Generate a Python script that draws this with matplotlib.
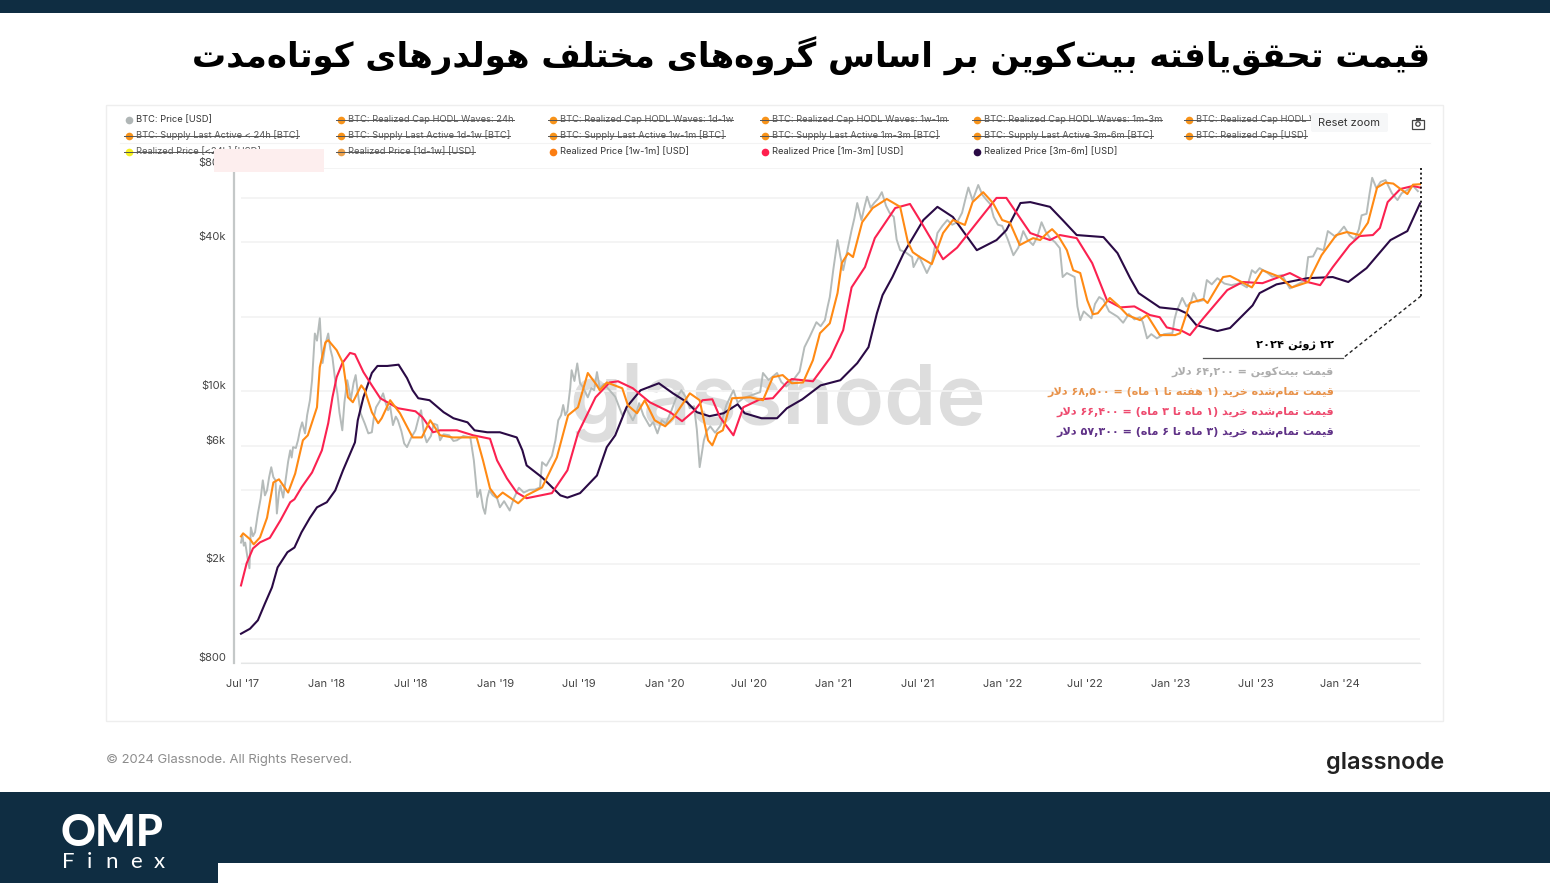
import numpy as np
import matplotlib
matplotlib.use('Agg')
import matplotlib.pyplot as plt
from matplotlib.patches import Rectangle, FancyBboxPatch, Circle

W, H = 1550, 883
NAVY = '#0f2d42'

# (months since Jul 2017, USD)
price_pts = [(0,2450),(.1,2620),(.2,2380),(.3,2450),(.45,2150),(.6,1930),(.7,2820),(.85,2600),(1,2700),(1.1,2950),(1.2,3210),(1.4,3700),(1.55,4370),
(1.7,3800),(1.85,3980),(2,4500),(2.15,4935),(2.3,4500),(2.45,4370),(2.55,3210),(2.7,3900),(2.8,4165),(3,3720),(3.2,4500),(3.35,5200),(3.5,5775),
(3.6,5400),(3.7,5950),(3.9,5900),(4.05,6340),(4.2,7000),(4.35,7490),(4.55,6760),(4.7,8000),(4.9,9200),(5.05,11080),(5.25,17100),(5.4,16000),(5.6,19700),
(5.7,15500),(5.8,13000),(6,15500),(6.2,17100),(6.35,14800),(6.5,13700),(6.7,11000),(6.85,9810),(7,8200),(7.2,6955),(7.35,9000),(7.55,11080),(7.7,10000),
(7.8,9200),(8,10800),(8.15,11620),(8.3,9900),(8.5,8150),(8.8,7400),(9.05,6760),(9.3,6830),(9.45,7900),(9.6,8615),(9.85,9100),(10.1,9810),(10.3,8900),
(10.45,8380),(10.6,8700),(10.8,7300),(11,7900),(11.15,7635),(11.4,6900),(11.6,6150),(11.8,5950),(12.1,6500),(12.4,6955),(12.6,7700),(12.8,8380),(13,6760),
(13.2,6220),(13.5,6600),(13.7,7400),(13.95,7300),(14.15,6340),(14.4,6700),(14.8,6640),(15.1,6300),(15.35,6340),(15.8,6600),(16.3,6510),(16.55,5260),
(16.7,4300),(16.8,3740),(17,4000),(17.2,3400),(17.35,3200),(17.5,3700),(17.65,3980),(17.9,3800),(18.2,3700),(18.4,3400),(18.7,3600),(19.1,3300),(19.4,3700),
(19.75,4080),(20.1,3900),(20.5,4000),(20.9,4010),(21.25,4090),(21.4,5170),(21.7,5000),(22.1,5490),(22.35,6340),(22.55,7635),(22.75,8000),(22.9,8800),(23.05,8000),
(23.2,8300),(23.4,10300),(23.5,12160),(23.7,11000),(23.9,12950),(24.1,10770),(24.3,10400),(24.65,9450),(24.9,10300),(25.1,10100),(25.3,11950),(25.5,10300),(25.8,10700),
(26.2,10090),(26.6,9500),(27.1,8000),(27.4,8500),(27.85,7635),(28.1,8200),(28.3,8950),(28.6,8000),(29.05,7220),(29.3,7500),(29.6,6760),(29.9,7635),(30.2,7400),
(30.6,8380),(30.9,9300),(31.3,10090),(31.6,9500),(31.9,8540),(32.2,8700),(32.4,7000),(32.6,4940),(32.75,5600),(32.9,6340),(33.1,6900),(33.35,7220),(33.7,6800),(34.1,7300),
(34.5,8800),(35,10090),(35.3,9000),(35.7,9370),(36.2,9600),(36.9,9920),(37.1,11850),(37.5,11100),(38.1,11850),(38.4,10900),(38.75,10450),(39.2,11000),(39.7,12000),
(40.05,15060),(40.4,16500),(40.9,19000),(41.2,18300),(41.5,19360),(41.7,22000),(41.85,24000),(42.1,31000),(42.4,40750),(42.6,35000),(42.8,30800),(43.1,37000),(43.4,44700),
(43.6,50000),(43.8,57500),(44.1,49100),(44.3,55000),(44.5,61000),(44.75,55000),(45,57500),(45.3,60000),(45.55,63600),(45.85,56000),(46.1,52500),(46.4,50500),(46.6,41000),(46.85,37100),
(47.2,36500),(47.7,34800),(47.8,31700),(48.2,35000),(48.75,30000),(49.1,33000),(49.5,43500),(49.85,46500),(50.2,49100),(50.55,47000),(50.9,48100),(51.25,52500),(51.5,60000),
(51.7,66400),(52,59000),(52.4,68000),(52.7,62000),(53,59100),(53.25,57000),(53.5,50500),(53.8,47000),(54.1,46500),(54.5,41000),(54.9,35400),(55.25,38000),(55.6,44300),(55.9,41000),(56.3,38900),
(56.6,42000),(56.9,48100),(57.2,44000),(57.5,41500),(57.85,40000),(58.2,37800),(58.4,28900),(58.7,30000),(59.25,28900),(59.45,22000),(59.65,19360),(59.9,21000),(60.45,19700),(60.7,22500),(61,24000),
(61.3,23400),(61.7,21000),(62.3,20000),(62.7,18900),(63.1,20500),(63.5,19500),(63.9,19900),(64.1,19000),(64.4,16350),(64.7,17000),(65.1,16350),(65.6,17000),(66.2,17150),(66.35,19500),(66.5,21000),(66.9,23800),
(67.2,22000),(67.5,22700),(67.7,24900),(68,23000),(68.4,23300),(68.65,28100),(69,27000),(69.4,28600),(69.9,27200),(70.4,26800),(71,27300),(71.5,26250),(71.85,30800),(72.1,30000),(72.4,31400),
(72.9,30200),(73.3,29000),(74,29400),(74.55,26000),(75.1,27000),(75.65,28100),(75.85,34800),(76.2,35000),(76.5,37800),(76.95,37100),(77.25,44300),(77.8,42000),(78.4,46200),(78.8,42500),(79.15,41000),
(79.45,45000),(79.65,51300),(80,52000),(80.2,62000),(80.4,72700),(80.7,66000),(81,70000),(81.35,71200),(81.8,63000),(82.2,59100),(82.5,63000),(82.9,64900),(83.3,67500),(83.65,64200)]

orange_pts = [(0,2595),(.15,2670),(.65,2525),(.9,2410),(1.35,2570),(1.85,3085),(2.3,4285),(2.7,4410),(3.35,3900),(3.85,4650),(4.4,6340),(4.75,6640),(5.4,8615),(5.6,12500),
(6,15750),(6.2,16070),(6.8,14640),(7.25,12980),(7.6,9450),(7.95,9030),(8.3,9900),(8.55,10560),(8.8,10090),(9.3,8230),(9.75,7430),(10,7780),(10.6,9200),(11.3,8150),
(12.2,6510),(12.85,6510),(13.45,7635),(14.15,6640),(15.05,6510),(16.75,6510),(17.2,5260),(17.7,4050),(18.2,3720),(18.6,3900),(19.7,3530),(20.3,3800),(21.4,4090),
(22.45,5410),(23.25,8000),(23.95,8615),(24.65,11850),(25.3,10560),(25.5,10090),(26,10850),(27.1,10280),(27.5,8770),(28.15,8150),(28.7,9200),(29.4,7635),(30.15,7220),
(30.7,7780),(31.9,9810),(32.6,9200),(33.2,6340),(33.5,6050),(33.85,6760),(34.25,6955),(34.9,9370),(36.2,9450),(37.1,9200),(37.8,11400),(38.5,11620),(39.15,10770),
(39.95,10850),(40.65,13340),(41.15,17150),(41.85,18800),(42.4,24900),(42.7,32900),(43.15,36100),(43.5,34800),(44.15,48100),(44.9,54900),(45.9,59700),(46.85,55500),
(47.4,40000),(47.75,36400),(48.25,34800),(49.1,32600),(49.9,43500),(50.6,49100),(51.45,46900),(52,58000),(52.75,63600),(53.45,57500),(54.1,49100),(54.65,47900),
(55.35,38900),(56.3,41500),(56.8,40750),(57.3,43500),(57.65,45100),(58.05,42700),(58.7,37100),(59.15,30800),(59.65,30000),(60.15,23300),(60.55,20450),(60.9,20650),
(61.75,23800),(62.35,22200),(63,20300),(63.9,19360),(64.4,20300),(65.3,16850),(66.4,16850),(66.75,17150),(67.45,22700),(68.4,23550),(68.7,22700),(69.8,28900),(70.3,29200),
(71.85,26250),(72.6,30800),(73.85,28900),(74.7,26250),(75.85,27600),(76.8,35400),(77.85,42700),(78.6,43900),(79.5,42700),(80.1,47900),(80.75,66400),(81.35,69500),
(81.9,68900),(82.9,62500),(83.3,68200),(83.8,68500)]

red_pts = [(0,1645),(.4,2020),(.85,2320),(1.35,2455),(2.05,2560),(2.8,3010),(3.5,3565),(3.8,3665),(4.3,4090),(5.05,4700),(5.75,5775),(6.2,7430),(6.5,9450),(6.8,11400),(7.2,12980),
(7.75,14280),(8.1,14100),(8.7,11950),(9.3,10560),(9.9,9370),(10.4,9030),(11.15,8540),(12.4,8300),(12.9,7850),(13.65,6830),(14.15,6955),(15.35,6955),(16.5,6640),(17.7,6430),
(18.2,5260),(18.9,4450),(19.6,3900),(20.3,3700),(22.1,3880),(23.2,4795),(23.95,6760),(25.2,9450),(26.2,10850),(26.8,10970),(27.85,10280),(29.05,9030),(30.5,8230),(31.35,7570),
(32.25,8380),(32.8,9200),(33.5,9280),(34.05,7850),(35,6640),(35.7,8615),(36.9,9280),(37.8,9370),(38.8,10850),(39.15,11200),(40.65,10970),(41.9,13700),(42.8,17640),(43.4,26260),
(44.35,31700),(45.05,41500),(46.5,54900),(47.55,57000),(48.25,49100),(49.9,34100),(50.9,38000),(52.3,47900),(53.7,60300),(54.4,60300),(56.1,43500),(57.5,40750),(58.2,42700),
(59.4,41500),(60.5,32900),(61.55,23300),(62.5,21800),(63.5,22000),(64.6,20300),(65.3,19900),(65.8,18100),(66.9,17500),(67.45,16850),(68.4,19700),(70.1,25600),(71.2,27600),
(72.6,27300),(74.55,30000),(75.8,27600),(76.7,26800),(77.6,31700),(78.8,38900),(79.5,42300),(80.45,42700),(80.95,45600),(81.5,58000),(82.4,65500),(83.3,67400),(83.8,66400)]

dark_pts = [(0,1050),(.64,1100),(1.2,1190),(1.7,1390),(2.2,1615),(2.6,1945),(3.3,2240),(3.8,2340),(4.3,2695),(4.9,3085),(5.4,3400),(6.1,3565),(6.7,3980),(7.25,4795),(8.1,6220),
(8.3,7635),(8.7,9450),(9.3,11850),(9.7,12650),(10.4,12650),(11.2,12800),(11.8,11300),(12.2,10090),(12.6,9370),(13.4,9200),(14.4,8230),(15.1,7780),(16.1,7490),(16.6,6955),
(17.5,6830),(18.4,6830),(19.6,6510),(20,5775),(20.3,5020),(21.4,4490),(22.7,3800),(23.2,3720),(24.1,3880),(25.3,4570),(26,5950),(26.6,6640),(27.4,8615),(28.4,10090),(29.7,10770),
(30.7,9810),(31.7,9030),(32.4,8230),(33.3,7930),(34.3,8150),(35.3,8860),(35.8,8150),(37,7780),(38.1,7780),(38.8,8540),(39.9,9280),(41.2,10560),(42.6,11080),(43.8,12980),(44.6,15060),
(45.2,20650),(45.6,24430),(46.3,28900),(47.1,36100),(48.5,49100),(49.5,55500),(50.6,50500),(52.3,37100),(53.7,40750),(54.4,44700),(55.4,57500),(56.1,58000),(57.5,55500),(58.4,49100),
(59.4,42700),(61.3,41900),(62.3,36100),(63.2,28600),(63.8,24900),(65.3,21800),(66.6,21400),(67.2,20650),(67.9,18500),(69.4,17500),(70.3,18000),(71.9,22200),(72.4,24900),(73.6,27000),
(75.8,28600),(77.6,28900),(78.7,27600),(80,31400),(81.7,40750),(82.9,44300),(83.8,57300)]

y_ticks = [800, 1000, 2000, 4000, 6000, 10000, 20000, 40000, 60000, 80000]
y_labels = ['$800', '', '$2k', '', '$6k', '$10k', '', '$40k', '', '$80k']
x_ticks = [0.1, 6.1, 12.1, 18.1, 24, 30.1, 36.1, 42.1, 48.1, 54.1, 60, 66.1, 72.1, 78.1]
x_labels = ["Jul '17", "Jan '18", "Jul '18", "Jan '19", "Jul '19", "Jan '20", "Jul '20",
            "Jan '21", "Jul '21", "Jan '22", "Jul '22", "Jan '23", "Jul '23", "Jan '24"]

title = 'قیمت تحقق‌یافته بیت‌کوین بر اساس گروه‌های مختلف هولدرهای کوتاه‌مدت'
date_note = '۲۲ ژوئن ۲۰۲۴'
notes = [('قیمت بیت‌کوین = ۶۴,۲۰۰ دلار', '#adadad'),
         ('قیمت تمام‌شده خرید (۱ هفته تا ۱ ماه) = ۶۸,۵۰۰ دلار', '#e8924a'),
         ('قیمت تمام‌شده خرید (۱ ماه تا ۳ ماه) = ۶۶,۴۰۰ دلار', '#ee4a6e'),
         ('قیمت تمام‌شده خرید (۳ ماه تا ۶ ماه) = ۵۷,۳۰۰ دلار', '#5f3187')]

ORG = '#f7931a'
legend_rows = [
    [('BTC: Price [USD]', '#b0b6b6', False), ('BTC: Realized Cap HODL Waves: 24h', ORG, True),
     ('BTC: Realized Cap HODL Waves: 1d-1w', ORG, True), ('BTC: Realized Cap HODL Waves: 1w-1m', ORG, True),
     ('BTC: Realized Cap HODL Waves: 1m-3m', ORG, True), ('BTC: Realized Cap HODL W', ORG, True)],
    [('BTC: Supply Last Active < 24h [BTC]', ORG, True), ('BTC: Supply Last Active 1d-1w [BTC]', ORG, True),
     ('BTC: Supply Last Active 1w-1m [BTC]', ORG, True), ('BTC: Supply Last Active 1m-3m [BTC]', ORG, True),
     ('BTC: Supply Last Active 3m-6m [BTC]', ORG, True), ('BTC: Realized Cap [USD]', ORG, True)],
    [('Realized Price [<24h] [USD]', '#f5f01e', True), ('Realized Price [1d-1w] [USD]', '#eda24c', True),
     ('Realized Price [1w-1m] [USD]', '#fb7d12', False), ('Realized Price [1m-3m] [USD]', '#ff1f4e', False),
     ('Realized Price [3m-6m] [USD]', '#2a0a45', False)]]

finex_letters = ['F', 'i', 'n', 'e', 'x']
finex_x = [62, 87, 105, 130, 154]


# matplotlib does no arabic shaping, so pick the presentation forms here
FORMS = {'ا': (0xFE8D, 0xFE8E), 'د': (0xFEA9, 0xFEAA), 'ر': (0xFEAD, 0xFEAE), 'ز': (0xFEAF, 0xFEB0),
         'ژ': (0xFB8A, 0xFB8B), 'و': (0xFEED, 0xFEEE),
         'ب': (0xFE8F, 0xFE90, 0xFE91, 0xFE92), 'ت': (0xFE95, 0xFE96, 0xFE97, 0xFE98),
         'ح': (0xFEA1, 0xFEA2, 0xFEA3, 0xFEA4), 'خ': (0xFEA5, 0xFEA6, 0xFEA7, 0xFEA8),
         'س': (0xFEB1, 0xFEB2, 0xFEB3, 0xFEB4), 'ش': (0xFEB5, 0xFEB6, 0xFEB7, 0xFEB8),
         'ف': (0xFED1, 0xFED2, 0xFED3, 0xFED4), 'ق': (0xFED5, 0xFED6, 0xFED7, 0xFED8),
         'ک': (0xFB8E, 0xFB8F, 0xFB90, 0xFB91), 'گ': (0xFB92, 0xFB93, 0xFB94, 0xFB95),
         'ل': (0xFEDD, 0xFEDE, 0xFEDF, 0xFEE0), 'م': (0xFEE1, 0xFEE2, 0xFEE3, 0xFEE4),
         'ن': (0xFEE5, 0xFEE6, 0xFEE7, 0xFEE8), 'ه': (0xFEE9, 0xFEEA, 0xFEEB, 0xFEEC),
         'ی': (0xFBFC, 0xFBFD, 0xFBFE, 0xFBFF), 'ئ': (0xFE89, 0xFE8A, 0xFE8B, 0xFE8C)}
MIRROR = {'(': ')', ')': '('}


def shape(s):
    out = []
    i = 0
    while i < len(s):
        c = s[i]
        if c not in FORMS:
            out.append(MIRROR.get(c, c))
            i += 1
            continue
        prev = s[i - 1] if i > 0 else ''
        joins_prev = prev in FORMS and len(FORMS[prev]) == 4
        if c == 'ل' and s[i + 1:i + 2] == 'ا':
            out.append(chr(0xFEFC if joins_prev else 0xFEFB))
            i += 2
            continue
        nxt = s[i + 1] if i + 1 < len(s) else ''
        f = FORMS[c]
        joins_next = len(f) == 4 and nxt in FORMS
        if joins_prev and joins_next:
            out.append(chr(f[3]))
        elif joins_prev:
            out.append(chr(f[1]))
        elif joins_next:
            out.append(chr(f[2]))
        else:
            out.append(chr(f[0]))
        i += 1
    # visual order, number runs stay left to right
    out = out[::-1]
    res = []
    run = []
    for c in out:
        if c in '۰۱۲۳۴۵۶۷۸۹,':
            run.append(c)
        else:
            res.extend(run[::-1])
            run = []
            res.append(c)
    res.extend(run[::-1])
    return ''.join(res).replace('\u200c', '')


plt.rcParams['font.family'] = ['Inter', 'DejaVu Sans']
fig = plt.figure(figsize=(W / 100, H / 100), dpi=100, facecolor='white')

ax = fig.add_axes([241 / W, 1 - 663 / H, (1420 - 241) / W, (663 - 167.5) / H], zorder=1)
ax.patch.set_alpha(0)
ax.set_yscale('log')
ax.set_xlim(0, 83.8)
ax.set_ylim(800, 80000)
ax.grid(axis='y', color='#f3f3f3', lw=1.3, zorder=0)
ax.set_axisbelow(True)
for s in ['top', 'right', 'left']:
    ax.spines[s].set_visible(False)
ax.spines['bottom'].set_color('#e4e6e6')
ax.minorticks_off()
ax.set_yticks(y_ticks)
ax.set_yticklabels(y_labels, va='bottom', fontsize=8, color='#444444')
ax.set_xticks(x_ticks)
ax.set_xticklabels(x_labels, fontsize=8, color='#444444')
ax.tick_params(axis='y', length=0, pad=11)
ax.tick_params(axis='x', length=0, pad=11.5)
ax.minorticks_off()

ax.text(778 / W, 1 - 402 / H, 'glassnode', transform=fig.transFigure, ha='center', va='center',
        fontsize=60, color='#dddddd', fontweight='semibold', zorder=0.5)

for pts, col, lw in [(price_pts, '#b5bbba', 1.4), (dark_pts, '#2a0a45', 1.5),
                     (red_pts, '#fb2150', 1.5), (orange_pts, '#ff8a14', 1.5)]:
    m, usd = np.array(pts).T
    ax.plot(m, usd, color=col, lw=lw, solid_joinstyle='round', zorder=3, clip_on=False)

# everything else is laid out in image pixels on a see-through overlay
ov = fig.add_axes([0, 0, 1, 1], zorder=2)
ov.set_xlim(0, W)
ov.set_ylim(H, 0)
ov.axis('off')

ov.add_patch(Rectangle((0, 0), W, 12.5, color=NAVY, lw=0))
ov.add_patch(Rectangle((0, 792), W, 91, color=NAVY, lw=0))
ov.add_patch(Rectangle((218, 863), W - 218, 20, color='white', lw=0))
ov.add_patch(Rectangle((106, 105), 1337, 616, fc='none', ec='#eeeeee', lw=1))

ov.text(1430, 56, shape(title), ha='right', va='center', fontsize=24.5, fontweight='bold',
        family='DejaVu Sans', color='black')

# legend
col_x = [129, 341, 553, 765, 977, 1189]
row_y = [120, 135.5, 151.5]
for ry, row in zip(row_y, legend_rows):
    for cx, (lab, col, struck) in zip(col_x, row):
        t = ov.text(cx + 7, ry, lab, va='center', fontsize=6.7, color='#555555' if struck else '#333333')
        ov.plot(cx, ry, 'o', color=col, ms=5.5, mew=0)
        if struck:
            bb = t.get_window_extent(fig.canvas.get_renderer())
            ov.plot([cx - 5, bb.x1], [ry, ry], color='#555555', lw=0.7)
ov.plot([120, 1430], [142.5, 142.5], color='#f3f3f3', lw=0.8, zorder=0)

ov.add_patch(Rectangle((214, 149), 110, 23, color='#fdeeee', lw=0, zorder=5))
ov.plot([234, 234], [172, 663], color='#c4c8c8', lw=1.6)

# reset zoom button and camera icon
ov.add_patch(FancyBboxPatch((1313, 115), 73, 15, boxstyle='round,pad=2', fc='#f6f7f8', ec='none', zorder=5))
ov.text(1349.5, 123.5, 'Reset zoom', ha='center', va='center', fontsize=8, color='#333333', zorder=6)
ov.add_patch(Rectangle((1412, 119.5), 12, 9, fc='none', ec='#444444', lw=0.9))
ov.add_patch(Rectangle((1415.5, 118), 5, 1.5, fc='#444444', ec='none'))
ov.add_patch(Circle((1418, 124), 2.2, fc='none', ec='#444444', lw=0.9))

# last value callout
ov.plot([1421, 1421], [168, 296], color='black', lw=1.2, ls=(0, (1.2, 1.6)))
ov.plot([1421, 1343], [296, 358], color='#222222', lw=1, ls=(0, (2.5, 2)))
ov.plot([1343, 1203], [358, 358], color='#555555', lw=0.9)
ov.text(1334, 345.5, shape(date_note), ha='right', va='center', fontsize=8.2, fontweight='bold',
        family='DejaVu Sans', color='black')
for ny, (txt, col) in zip([372, 392, 412, 432], notes):
    ov.text(1334, ny, shape(txt), ha='right', va='center', fontsize=8, fontweight='bold',
            family='DejaVu Sans', color=col)

# footer
ov.text(106, 759.5, '© 2024 Glassnode. All Rights Reserved.', va='center', fontsize=9.4, color='#8c8c8c')
ov.text(1444, 763, 'glassnode', ha='right', va='center', fontsize=17, fontweight='semibold', color='#222222')
ov.text(61, 833, 'OMP', va='center', fontsize=31, fontweight='black', color='white', family='Lato')
for ch, fx in zip(finex_letters, finex_x):
    ov.text(fx, 861.5, ch, va='center', fontsize=16, color='white', family='Lato')

fig.savefig('out.png', dpi=100)
